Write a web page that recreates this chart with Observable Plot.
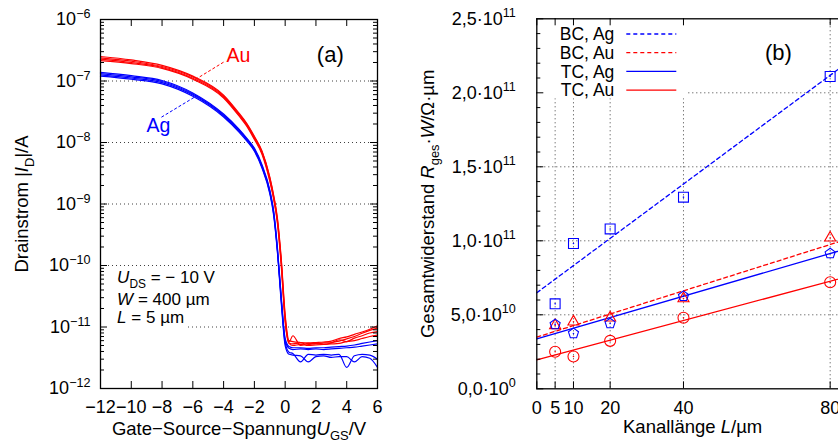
<!DOCTYPE html>
<html><head><meta charset="utf-8">
<script src="https://cdn.jsdelivr.net/npm/d3@7"></script>
<script src="https://cdn.jsdelivr.net/npm/@observablehq/plot@0.6"></script>
<style>
html,body{margin:0;padding:0;background:#fff;}
#wrap{position:relative;width:838px;height:448px;overflow:hidden;background:#fff;}
#wrap svg{position:absolute;top:0;}
</style></head><body><div id="wrap"></div>
<script>
// ---------- Panel (a): transfer curves ----------
const ugs = [-12,-10,-8,-6,-4,-3,-2.5,-2,-1.5,-1,-0.75,-0.5,-0.25,0,0.25,0.5,1,1.5,2,2.5,3,3.5,4,4.5,5,5.5,6];
const auCurves = [
 [2.5e-7,2.2e-7,1.8e-7,1.2e-7,5.9e-8,3.0e-8,2.05e-8,1.26e-8,7.2e-9,2.75e-9,1.4e-9,5.8e-10,1.25e-10,1.6e-11,6.0e-12,5.8e-12,5.6e-12,5.5e-12,5.6e-12,5.7e-12,5.9e-12,6.5e-12,6.9e-12,7.6e-12,8.3e-12,9.2e-12,1.05e-11],
 [2.38e-7,2.1e-7,1.72e-7,1.16e-7,5.7e-8,2.9e-8,2.0e-8,1.22e-8,7.0e-9,2.65e-9,1.35e-9,5.5e-10,1.15e-10,1.45e-11,5.7e-12,7.2e-12,5.0e-12,5.4e-12,5.3e-12,5.5e-12,5.6e-12,5.9e-12,6.4e-12,7.0e-12,7.9e-12,8.8e-12,9.6e-12],
 [2.27e-7,2.0e-7,1.66e-7,1.11e-7,5.5e-8,2.8e-8,1.92e-8,1.17e-8,6.7e-9,2.5e-9,1.27e-9,5.1e-10,1.05e-10,1.3e-11,5.5e-12,5.3e-12,5.5e-12,5.2e-12,5.4e-12,5.2e-12,5.5e-12,6.2e-12,5.8e-12,6.6e-12,7.2e-12,8.0e-12,8.4e-12],
 [2.15e-7,1.92e-7,1.6e-7,1.07e-7,5.3e-8,2.7e-8,1.85e-8,1.12e-8,6.4e-9,2.35e-9,1.2e-9,4.8e-10,9.5e-11,1.2e-11,5.4e-12,5.0e-12,5.2e-12,5.0e-12,5.1e-12,5.2e-12,5.3e-12,5.4e-12,5.8e-12,6.0e-12,6.5e-12,7.0e-12,7.4e-12]
];
const agCurves = [
 [1.38e-7,1.22e-7,1.02e-7,6.4e-8,2.9e-8,1.65e-8,1.18e-8,8.1e-9,4.3e-9,1.7e-9,7.8e-10,1.9e-10,3.0e-11,6.5e-12,4.8e-12,4.6e-12,4.6e-12,4.5e-12,4.6e-12,4.6e-12,4.7e-12,4.8e-12,4.9e-12,5.1e-12,5.4e-12,5.7e-12,6.0e-12],
 [1.32e-7,1.17e-7,9.8e-8,6.15e-8,2.8e-8,1.6e-8,1.14e-8,7.8e-9,4.1e-9,1.62e-9,7.4e-10,1.8e-10,2.8e-11,6.0e-12,4.5e-12,4.3e-12,4.4e-12,4.3e-12,4.4e-12,4.3e-12,4.4e-12,4.5e-12,4.6e-12,4.7e-12,4.9e-12,5.1e-12,5.3e-12],
 [1.26e-7,1.12e-7,9.4e-8,5.9e-8,2.7e-8,1.54e-8,1.1e-8,7.5e-9,3.95e-9,1.55e-9,7.0e-10,1.7e-10,2.6e-11,5.5e-12,3.9e-12,3.7e-12,2.7e-12,3.6e-12,3.5e-12,3.6e-12,3.5e-12,3.6e-12,2.2e-12,3.4e-12,3.6e-12,3.5e-12,3.0e-12],
 [1.2e-7,1.07e-7,9.0e-8,5.65e-8,2.6e-8,1.48e-8,1.06e-8,7.2e-9,3.8e-9,1.48e-9,6.6e-10,1.6e-10,2.4e-11,5.0e-12,3.6e-12,3.5e-12,3.4e-12,2.7e-12,3.3e-12,3.4e-12,3.2e-12,3.3e-12,3.3e-12,2.7e-12,3.3e-12,3.1e-12,2.2e-12]
];
const xTicksA = [-12,-10,-8,-6,-4,-2,0,2,4,6];
const decades = [1e-12,1e-11,1e-10,1e-9,1e-8,1e-7,1e-6];
const gridDecades = [1e-11,1e-10,1e-9,1e-8,1e-7];
const curveLabels = [
  {u:-3.03, i:2.6e-7, text:"Au", color:"#ff0000"},
  {u:-8.23, i:1.89e-8, text:"Ag", color:"#0000ff"}
];
const leaders = [
  {u1:-5.83, i1:1.06e-7, u2:-3.94, i2:2.07e-7, color:"#ff0000"},
  {u1:-8.04, i1:2.58e-8, u2:-5.72, i2:5.8e-8, color:"#0000ff"}
];
const condText = [
  {u:-10.92, i:6.3e-11, text:"*U*_{DS} = − 10 V"},
  {u:-10.92, i:2.8e-11, text:"*W* = 400 µm"},
  {u:-10.92, i:1.43e-11, text:"*L* = 5 µm"}
];
const panelA = [{u:2.93, i:2.65e-7, text:"(a)"}];

// ---------- Panel (b): resistance vs channel length ----------
const lengths = [5,10,20,40,80];
const bcAg = [5.74e10,9.82e10,1.08e11,1.295e11,2.11e11];
const bcAu = [4.28e10,4.53e10,4.8e10,6.1e10,1.02e11];
const tcAg = [4.35e10,3.74e10,4.41e10,6.26e10,9.14e10];
const tcAu = [2.5e10,2.18e10,3.24e10,4.8e10,7.2e10];
const fitL = [0,85];
const bcAgFit = [6.49e10,2.21e11];
const bcAuFit = [3.49e10,1.014e11];
const tcAgFit = [3.38e10,9.5e10];
const tcAuFit = [1.96e10,7.6e10];
const xTicksB = [0,5,10,20,40,80];
const yTicksB = [0,5e10,1e11,1.5e11,2e11,2.5e11];
const seriesNames = ["BC, Ag","BC, Au","TC, Ag","TC, Au"];
const panelB = [{L:65.9, R:2.27e11, text:"(b)"}];

const FONT = "'Liberation Sans', Arial, Helvetica, sans-serif";
const BLUE = "#0000ff", RED = "#ff0000";

// markup: *italic*, _{sub}, ^{sup}
function markup(t) {
  const s = t.textContent;
  if (!/[_^*]/.test(s)) return;
  const segs = []; let i = 0, italic = false, buf = "";
  const push = () => { if (buf) segs.push({txt: buf, italic, mode: 0}); buf = ""; };
  while (i < s.length) {
    const c = s[i];
    if (c === "*") { push(); italic = !italic; i++; }
    else if ((c === "_" || c === "^") && s[i+1] === "{") {
      push(); const j = s.indexOf("}", i);
      segs.push({txt: s.slice(i+2, j), italic: false, mode: c === "_" ? -1 : 1}); i = j + 1;
    } else { buf += c; i++; }
  }
  push();
  while (t.firstChild) t.removeChild(t.firstChild);
  let shift = 0;
  for (const g of segs) {
    const ts = document.createElementNS("http://www.w3.org/2000/svg", "tspan");
    const target = g.mode === 1 ? -0.4 : g.mode === -1 ? 0.28 : 0;
    const fsz = g.mode ? 0.7 : 1;
    const delta = target - shift;
    if (Math.abs(delta) > 1e-9) ts.setAttribute("dy", (delta / fsz).toFixed(3) + "em");
    if (g.mode) ts.setAttribute("font-size", "70%");
    if (g.italic) ts.setAttribute("font-style", "italic");
    ts.textContent = g.txt;
    t.appendChild(ts);
    shift = target;
  }
}

// ---- build panel (a)
const WA = 418, H = 448;
const mA = {l:100, r:41, t:19, b:60};
const fwA = WA - mA.l - mA.r, fhA = H - mA.t - mA.b;
const rowsAu = auCurves.flatMap((c, k) => c.map((v, j) => ({u: ugs[j], i: v, k})));
const rowsAg = agCurves.flatMap((c, k) => c.map((v, j) => ({u: ugs[j], i: v, k})));
const minorA = decades.slice(0, -1).flatMap(d => [2,3,4,5,6,7,8,9].map(m => m * d));
const supMinus = n => String(n).replace("-", "−");

function boxA(index, scales, values, dims) {
  const g = d3.create("svg:g");
  g.append("rect").attr("x", dims.marginLeft + 1).attr("y", 268).attr("width", 87).attr("height", 63).attr("fill", "white");
  return g.node();
}

const plotA = Plot.plot({
  width: WA, height: H,
  marginLeft: mA.l, marginRight: mA.r, marginTop: mA.t, marginBottom: mA.b,
  style: {fontFamily: FONT, fontSize: "18px", background: "white", color: "black"},
  x: {domain: [-12, 6]},
  y: {type: "log", domain: [1e-12, 1e-6]},
  marks: [
    Plot.gridY(gridDecades, {stroke: "#000", strokeOpacity: 0.75, strokeDasharray: "1,3"}),
    boxA,
    Plot.line(rowsAg, {x: "u", y: "i", z: "k", stroke: BLUE, strokeWidth: 1.2, curve: "monotone-x"}),
    Plot.line(rowsAu, {x: "u", y: "i", z: "k", stroke: RED, strokeWidth: 1.2, curve: "monotone-x"}),
    Plot.link(leaders, {x1: "u1", y1: "i1", x2: "u2", y2: "i2", stroke: "color", strokeWidth: 1, strokeDasharray: "3,2"}),
    Plot.text(curveLabels, {x: "u", y: "i", text: "text", fill: "color", fontSize: 19.5}),
    Plot.text(condText, {x: "u", y: "i", text: "text", textAnchor: "start", fontSize: 17}),
    Plot.text(panelA, {x: "u", y: "i", text: "text", fontSize: 22}),
    Plot.tickY(decades, {y: d => d, stroke: "#000", insetRight: fwA - 7}),
    Plot.tickY(decades, {y: d => d, stroke: "#000", insetLeft: fwA - 7}),
    Plot.tickY(minorA, {y: d => d, stroke: "#000", insetRight: fwA - 4}),
    Plot.tickY(minorA, {y: d => d, stroke: "#000", insetLeft: fwA - 4}),
    Plot.tickX(xTicksA, {x: d => d, stroke: "#000", insetTop: fhA - 7}),
    Plot.tickX(xTicksA, {x: d => d, stroke: "#000", insetBottom: fhA - 7}),
    Plot.frame({stroke: "#000", strokeWidth: 1.3}),
    Plot.axisY({ticks: decades, tickSize: 0, tickPadding: 10, label: null,
      tickFormat: d => "10^{" + supMinus(Math.round(Math.log10(d))) + "}"}),
    Plot.axisX({ticks: xTicksA, tickSize: 0, tickPadding: 12, label: null}),
    Plot.text(["Gate−Source−Spannung*U*_{GS}/V"], {frameAnchor: "bottom", textAnchor: "middle", dy: 46, fontSize: 18.5}),
    Plot.text(["Drainstrom |*I*_{D}|/A"], {frameAnchor: "left", textAnchor: "middle", dx: -78, rotate: -90, fontSize: 18.5})
  ]
});

// ---- build panel (b)
const WB = 430;
const mB = {l:118.3, r:0, t:18.3, b:59.7};
const fwB = WB - mB.l - mB.r, fhB = H - mB.t - mB.b;
const seriesVals = [bcAg, bcAu, tcAg, tcAu];
const fitVals = [bcAgFit, bcAuFit, tcAgFit, tcAuFit];
const colors = [BLUE, RED, BLUE, RED];
const dashed = [true, true, false, false];
const pentagon = {draw(ctx, size) {
  const R = Math.sqrt(size / Math.PI) * 1.06;
  for (let k = 0; k < 5; k++) {
    const a = -Math.PI / 2 + k * 2 * Math.PI / 5;
    const x = R * Math.cos(a), y = R * Math.sin(a);
    if (k) ctx.lineTo(x, y); else ctx.moveTo(x, y);
  }
  ctx.closePath();
}};
const symbols = ["square", "triangle", pentagon, "circle"];
const symR = [5.6, 4.1, 5.0, 5.5];
const rowsPts = seriesVals.flatMap((vals, s) => vals.map((v, j) => ({L: lengths[j], R: v, s})));
const rowsFit = fitVals.flatMap((vals, s) => vals.map((v, j) => ({L: fitL[j], R: v, s})));
const minorB = d3.range(1e10, 2.5e11, 1e10).filter(v => Math.round(v / 1e10) % 5 !== 0);
const fmtB = v => {
  if (v === 0) return "0,0·10^{0}";
  const e = Math.floor(Math.log10(v) + 1e-9), m = v / Math.pow(10, e);
  return m.toFixed(1).replace(".", ",") + "·10^{" + e + "}";
};

function legendB(index, scales, values, dims) {
  const g = d3.create("svg:g");
  const x0 = dims.marginLeft, y0 = dims.marginTop;
  g.append("rect").attr("x", x0 + 1).attr("y", y0 + 1).attr("width", 149).attr("height", 79).attr("fill", "white");
  seriesNames.forEach((name, k) => {
    const cy = y0 + 15.7 + k * 18.7;
    g.append("text").attr("x", x0 + 78).attr("y", cy).attr("dy", "0.35em").attr("text-anchor", "end")
      .attr("font-size", 17.5).attr("fill", "black").text(name);
    g.append("line").attr("x1", x0 + 90).attr("x2", x0 + 140).attr("y1", cy).attr("y2", cy)
      .attr("stroke", colors[k]).attr("stroke-width", 1.3).attr("stroke-dasharray", dashed[k] ? "4,3" : null);
  });
  return g.node();
}

const marksB = [
  Plot.gridX(xTicksB.filter(d => d > 0), {stroke: "#000", strokeOpacity: 0.75, strokeDasharray: "1,3"}),
  Plot.gridY(yTicksB.filter(d => d > 0 && d < 2.5e11), {stroke: "#000", strokeOpacity: 0.75, strokeDasharray: "1,3"}),
  legendB,
  Plot.text(panelB, {x: "L", y: "R", text: "text", fontSize: 22})
];
for (let s = 0; s < 4; s++) {
  marksB.push(Plot.line(rowsFit.filter(d => d.s === s), {x: "L", y: "R", stroke: colors[s], strokeWidth: 1.3,
    strokeDasharray: dashed[s] ? "4,3" : null, clip: true}));
}
for (let s = 0; s < 4; s++) {
  const pts = rowsPts.filter(d => d.s === s);
  marksB.push(Plot.dot(pts, {x: "L", y: "R", symbol: () => symbols[s], r: symR[s], stroke: colors[s], strokeWidth: 1.1, fill: "none"}));
  marksB.push(Plot.dot(pts, {x: "L", y: "R", r: 0.8, fill: colors[s], stroke: "none"}));
}
marksB.push(
  Plot.tickY(yTicksB, {y: d => d, stroke: "#000", insetRight: fwB - 7}),
  Plot.tickY(yTicksB, {y: d => d, stroke: "#000", insetLeft: fwB - 7}),
  Plot.tickY(minorB, {y: d => d, stroke: "#000", insetRight: fwB - 4}),
  Plot.tickY(minorB, {y: d => d, stroke: "#000", insetLeft: fwB - 4}),
  Plot.tickX(xTicksB, {x: d => d, stroke: "#000", insetTop: fhB - 7}),
  Plot.tickX(xTicksB, {x: d => d, stroke: "#000", insetBottom: fhB - 7}),
  Plot.frame({stroke: "#000", strokeWidth: 1.3}),
  Plot.axisY({ticks: yTicksB, tickSize: 0, tickPadding: 21, label: null, tickFormat: fmtB}),
  Plot.axisX({ticks: xTicksB, tickSize: 0, tickPadding: 12, label: null, tickFormat: d => String(d)}),
  Plot.text(["Kanallänge *L*/µm"], {frameAnchor: "bottom", textAnchor: "middle", dy: 44, fontSize: 18.5}),
  Plot.text(["Gesamtwiderstand *R*_{ges}·*W*/Ω·µm"], {frameAnchor: "left", textAnchor: "middle", dx: -109, rotate: -90, fontSize: 18.5})
);

const plotB = Plot.plot({
  width: WB, height: H,
  marginLeft: mB.l, marginRight: mB.r, marginTop: mB.t, marginBottom: mB.b,
  style: {fontFamily: FONT, fontSize: "18px", background: "white", color: "black", overflow: "visible"},
  x: {domain: [0, 85]},
  y: {domain: [0, 2.5e11]},
  marks: marksB
});

const wrap = document.getElementById("wrap");
plotA.style.left = "0px";
plotB.style.left = "418px";
wrap.appendChild(plotA);
wrap.appendChild(plotB);
[plotA, plotB].forEach(svg => svg.querySelectorAll("text").forEach(markup));
</script>
</body></html>
